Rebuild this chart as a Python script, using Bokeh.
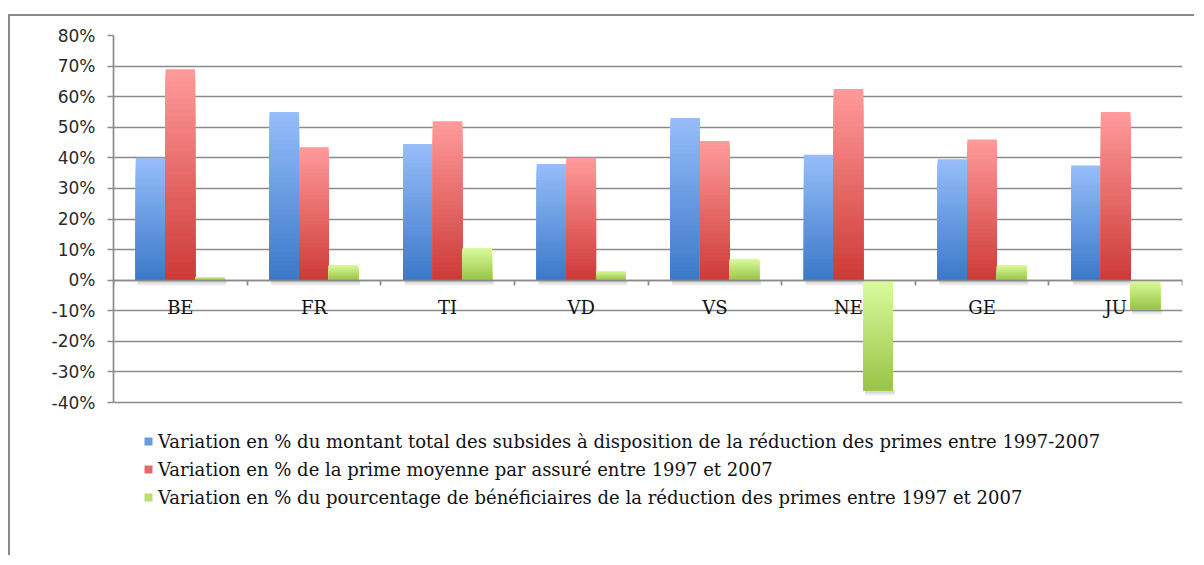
import numpy as np
from bokeh.plotting import figure
from bokeh.models import ColumnDataSource, FixedTicker, Legend, LegendItem, Range1d
from bokeh.embed import file_html
from bokeh.resources import INLINE

# ---- data ----
cantons = ["BE", "FR", "TI", "VD", "VS", "NE", "GE", "JU"]
subsides = [40, 55, 44.5, 38, 53, 41, 39.5, 37.5]
prime = [69, 43.5, 52, 40, 45.5, 62.5, 46, 55]
beneficiaires = [1, 5, 10.5, 3, 7, -36, 5, -9.5]
yticks = [-40, -30, -20, -10, 0, 10, 20, 30, 40, 50, 60, 70, 80]
series_labels = [
    "Variation en % du montant total des subsides à disposition de la réduction des primes entre 1997-2007",
    "Variation en % de la prime moyenne par assuré entre 1997 et 2007",
    "Variation en % du pourcentage de bénéficiaires de la réduction des primes entre 1997 et 2007",
]

# ---- style / layout ----
LIGHT = ["#97BEFA", "#FF9B9B", "#DCFB9E"]
DARK = ["#3B78C9", "#CD3A37", "#98C447"]
BAR_W = 0.222
OFFSETS = [-0.222, 0.0, 0.222]
NSTEP = 36
GRID = "#8a8a8a"
SHADOW_PX = [5, 3]   # soft shadow bands under each bar (pixels)

FIG_W, FIG_H = 1186, 541
MB_LEFT, MB_RIGHT, MB_TOP, MB_BOTTOM = 103, 14, 19, 40
AXIS_PX = 367
frame_px = FIG_H - MB_TOP - MB_BOTTOM
y_span = yticks[-1] - yticks[0]
y_bottom = yticks[-1] - frame_px * y_span / AXIS_PX
px_per_unit = AXIS_PX / y_span


def hex2rgb(h):
    h = h.lstrip("#")
    return np.array([int(h[i:i + 2], 16) for i in (0, 2, 4)], dtype=float)


def rgb2hex(c):
    return "#%02x%02x%02x" % tuple(int(round(v)) for v in c)


def gradient_source(values, offset, light, dark):
    lo_c, hi_c = hex2rgb(light), hex2rgb(dark)
    xs, tops, bottoms, cols = [], [], [], []
    for k in range(NSTEP):
        f = (k + 0.5) / NSTEP
        col = rgb2hex(lo_c + (hi_c - lo_c) * f)
        for i, v in enumerate(values):
            hi, lo = max(v, 0), min(v, 0)
            xs.append(i + offset)
            tops.append(hi - (hi - lo) * k / NSTEP)
            bottoms.append(lo)
            cols.append(col)
    return ColumnDataSource(dict(x=xs, top=tops, bottom=bottoms, color=cols))


p = figure(
    width=FIG_W, height=FIG_H,
    x_range=Range1d(-0.5, len(cantons) - 0.5),
    y_range=Range1d(y_bottom, yticks[-1]),
    output_backend="svg", toolbar_location=None,
    min_border_left=MB_LEFT, min_border_right=MB_RIGHT,
    min_border_top=MB_TOP, min_border_bottom=MB_BOTTOM,
)
p.styles = {
    "border-left": "2px solid #8a8a8a",
    "border-top": "2px solid #8a8a8a",
    "margin-top": "14px",
    "margin-left": "8px",
}
p.outline_line_color = None
p.background_fill_color = "white"
p.border_fill_color = "white"

# grid
p.xgrid.grid_line_color = None
p.ygrid.grid_line_color = GRID
p.ygrid.grid_line_width = 1.7
p.ygrid.ticker = FixedTicker(ticks=yticks)

all_series = [subsides, prime, beneficiaires]

# soft shadows under the bars
for spx in SHADOW_PX:
    sx, stop, sbot = [], [], []
    for s, vals in enumerate(all_series):
        for i, v in enumerate(vals):
            lo = min(v, 0)
            sx.append(i + OFFSETS[s] + 0.012)
            stop.append(lo)
            sbot.append(lo - spx / px_per_unit)
    p.vbar(x=sx, top=stop, bottom=sbot, width=BAR_W, fill_color="#7a7a7a",
           fill_alpha=0.16, line_color=None)

# bars with vertical gradient
bar_renderers = []
for s, vals in enumerate(all_series):
    src = gradient_source(vals, OFFSETS[s], LIGHT[s], DARK[s])
    r = p.vbar(x="x", top="top", bottom="bottom", width=BAR_W, source=src,
               fill_color="color", line_color=None)
    bar_renderers.append(r)

# y axis
p.yaxis.ticker = FixedTicker(ticks=yticks)
p.yaxis.bounds = (yticks[0], yticks[-1])
p.yaxis.major_label_overrides = {t: f"{t}%" for t in yticks}
p.yaxis.axis_line_color = GRID
p.yaxis.axis_line_width = 1.7
p.yaxis.major_tick_line_color = GRID
p.yaxis.major_tick_line_width = 1.7
p.yaxis.major_tick_out = 6
p.yaxis.major_tick_in = 0
p.yaxis.minor_tick_line_color = None
p.yaxis.major_label_text_font = "DejaVu Sans"
p.yaxis.major_label_text_font_size = "17px"
p.yaxis.major_label_text_color = "#2a2a2a"
p.yaxis.major_label_standoff = 12

# x axis at 0
p.xaxis.fixed_location = 0
p.xaxis.ticker = FixedTicker(ticks=list(range(len(cantons))),
                             minor_ticks=[i - 0.5 for i in range(len(cantons) + 1)])
p.xaxis.major_label_overrides = {i: c for i, c in enumerate(cantons)}
p.xaxis.axis_line_color = GRID
p.xaxis.axis_line_width = 1.7
p.xaxis.major_tick_line_color = None
p.xaxis.major_tick_out = 0
p.xaxis.major_tick_in = 0
p.xaxis.minor_tick_line_color = GRID
p.xaxis.minor_tick_line_width = 1.7
p.xaxis.minor_tick_out = 5
p.xaxis.minor_tick_in = 0
p.xaxis.major_label_text_font = "DejaVu Serif"
p.xaxis.major_label_text_font_size = "18px"
p.xaxis.major_label_text_color = "#111111"
p.xaxis.major_label_standoff = 12

# legend: use a mid-gradient slice of each series for the swatch colour
mid_index = (NSTEP // 2) * len(cantons)
items = [LegendItem(label=series_labels[s], renderers=[bar_renderers[s]], index=mid_index)
         for s in range(3)]

legend = Legend(
    items=items, location=(30, 6),
    orientation="vertical",
    glyph_width=10, glyph_height=10, label_height=28, spacing=0,
    label_standoff=5, padding=0, margin=0,
    border_line_color=None, background_fill_alpha=0,
    label_text_font="DejaVu Serif", label_text_font_size="18px",
    label_text_color="#111111",
)
p.add_layout(legend, "center")

open("out.html", "w").write(file_html(p, INLINE))
